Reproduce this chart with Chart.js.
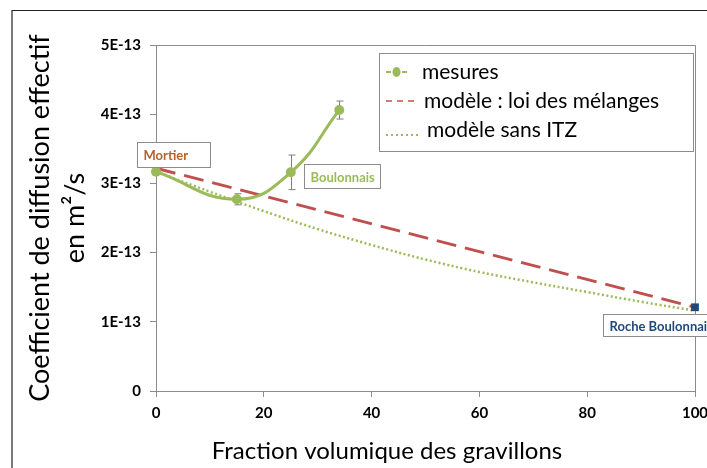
<!DOCTYPE html>
<html>
<head>
<meta charset="utf-8">
<script src="https://cdn.jsdelivr.net/npm/chart.js@4/dist/chart.umd.min.js"></script>
<style>
  html, body { margin: 0; padding: 0; background: #fff; }
  canvas { display: block; }
</style>
</head>
<body>
<canvas id="chart" width="707" height="468"></canvas>
<script>
// data (values in m2/s)
const mesuresX = [0, 15, 25, 34];
const mesuresY = [3.17e-13, 2.77e-13, 3.16e-13, 4.06e-13];
const mesuresErr = [0, 0.08e-13, 0.25e-13, 0.13e-13];

const melangeX = [0, 100];
const melangeY = [3.22e-13, 1.21e-13];

const sansItzX = [0, 10, 20, 30, 40, 50, 60, 70, 80, 90, 100];
const sansItzY = [3.17e-13, 2.88e-13, 2.60e-13, 2.34e-13, 2.11e-13, 1.90e-13, 1.72e-13, 1.57e-13, 1.43e-13, 1.29e-13, 1.16e-13];

const xTicks = [0, 20, 40, 60, 80, 100];
const yTicks = [0, 1e-13, 2e-13, 3e-13, 4e-13, 5e-13];

const seriesLabels = ["mesures", "modèle : loi des mélanges", "modèle sans ITZ"];
const pointNames = ["Mortier", "Boulonnais", "Roche Boulonnais"];

const FONT = 'Lato, "Open Sans", sans-serif';
const GREEN = "#9BBB59", RED = "#C0504D", BLUE = "#1F497D", AXIS = "#8c8c8c";

const toXY = (xs, ys) => xs.map((x, i) => ({ x, y: ys[i] }));

// error bars, frame, legend, point labels
const extras = {
    id: "extras",
    beforeDatasetsDraw(chart) {
        const { ctx, chartArea: a, scales: { x, y } } = chart;
        ctx.save();
        // plot box top / right
        ctx.strokeStyle = AXIS;
        ctx.lineWidth = 1;
        ctx.beginPath();
        ctx.moveTo(a.left, Math.round(a.top) + 0.5);
        ctx.lineTo(Math.round(a.right) + 0.5, Math.round(a.top) + 0.5);
        ctx.lineTo(Math.round(a.right) + 0.5, a.bottom);
        ctx.stroke();
        // error bars
        ctx.strokeStyle = "#7f7f7f";
        mesuresX.forEach((v, i) => {
            if (!mesuresErr[i]) return;
            const px = Math.round(x.getPixelForValue(v)) + 0.5;
            const top = y.getPixelForValue(mesuresY[i] + mesuresErr[i]);
            const bot = y.getPixelForValue(mesuresY[i] - mesuresErr[i]);
            ctx.beginPath();
            ctx.moveTo(px, top); ctx.lineTo(px, bot);
            ctx.moveTo(px - 3, top); ctx.lineTo(px + 4, top);
            ctx.moveTo(px - 3, bot); ctx.lineTo(px + 4, bot);
            ctx.stroke();
        });
        ctx.restore();
    },
    afterDraw(chart) {
        const { ctx, scales: { x, y } } = chart;
        ctx.save();
        // outer frame
        ctx.strokeStyle = "#222";
        ctx.lineWidth = 1.2;
        ctx.beginPath();
        ctx.moveTo(12, 468); ctx.lineTo(12, 10.5); ctx.lineTo(707, 10.5);
        ctx.stroke();

        // x title
        ctx.fillStyle = "#000";
        ctx.font = "24px " + FONT;
        ctx.textAlign = "center";
        ctx.textBaseline = "middle";
        ctx.fillText("Fraction volumique des gravillons", 387, 451);

        // point labels
        const boxes = [
            { text: pointNames[0], px: x.getPixelForValue(mesuresX[0]), py: y.getPixelForValue(mesuresY[0]), dx: -19, dy: -30, w: 73, h: 25, color: "#B5622A" },
            { text: pointNames[1], px: x.getPixelForValue(mesuresX[2]), py: y.getPixelForValue(mesuresY[2]), dx: 13, dy: -8, w: 76, h: 24, color: GREEN },
            { text: pointNames[2], px: x.getPixelForValue(melangeX[1]), py: y.getPixelForValue(melangeY[1]), dx: -92, dy: 7, w: 110, h: 22, color: BLUE }
        ];
        ctx.font = "bold 13px " + FONT;
        boxes.forEach(b => {
            const bx = Math.round(b.px + b.dx) + 0.5, by = Math.round(b.py + b.dy) + 0.5;
            ctx.fillStyle = "#fff";
            ctx.fillRect(bx, by, b.w, b.h);
            ctx.strokeStyle = "#8c8c8c";
            ctx.lineWidth = 1;
            ctx.strokeRect(bx, by, b.w, b.h);
            ctx.fillStyle = b.color;
            ctx.textAlign = "left";
            ctx.fillText(b.text, bx + 6, by + b.h / 2 + 1);
        });

        // legend
        const lx = 379.5, ly = 53.5, lw = 314, lh = 98;
        ctx.fillStyle = "#fff";
        ctx.fillRect(lx, ly, lw, lh);
        ctx.strokeStyle = "#8c8c8c";
        ctx.strokeRect(lx, ly, lw, lh);
        const rows = [72, 101, 130];
        ctx.font = "21px " + FONT;
        ctx.textAlign = "left";
        ctx.textBaseline = "middle";
        const ds = chart.data.datasets;
        // mesures: -●-
        ctx.strokeStyle = ds[0].borderColor;
        ctx.lineWidth = 2;
        ctx.beginPath();
        ctx.moveTo(386, rows[0]); ctx.lineTo(391, rows[0]);
        ctx.moveTo(402, rows[0]); ctx.lineTo(407, rows[0]);
        ctx.stroke();
        ctx.fillStyle = ds[0].borderColor;
        ctx.beginPath();
        ctx.ellipse(396.5, rows[0], 4, 5, 0, 0, Math.PI * 2);
        ctx.fill();
        // loi des melanges: - - -
        ctx.strokeStyle = ds[1].borderColor;
        ctx.lineWidth = 1.5;
        ctx.setLineDash([6, 5]);
        ctx.beginPath();
        ctx.moveTo(386, rows[1]); ctx.lineTo(419, rows[1]);
        ctx.stroke();
        // sans ITZ: ......
        ctx.strokeStyle = ds[2].borderColor;
        ctx.lineWidth = 2;
        ctx.setLineDash([2, 3]);
        ctx.beginPath();
        ctx.moveTo(386, rows[2] + 5); ctx.lineTo(419, rows[2] + 5);
        ctx.stroke();
        ctx.setLineDash([]);
        ctx.fillStyle = "#000";
        ds.forEach((d, i) => ctx.fillText(d.label, [422, 424, 427][i], rows[i]));
        ctx.restore();
    }
};

new Chart(document.getElementById("chart"), {
    type: "line",
    data: {
        datasets: [
            {
                label: seriesLabels[0],
                data: toXY(mesuresX, mesuresY),
                borderColor: GREEN,
                backgroundColor: GREEN,
                borderWidth: 3,
                pointRadius: 5,
                pointBorderWidth: 0,
                tension: 0.45,
                clip: false,
                order: 1
            },
            {
                label: seriesLabels[1],
                data: toXY(melangeX, melangeY),
                borderColor: RED,
                backgroundColor: BLUE,
                borderWidth: 3,
                borderDash: [20, 9],
                pointRadius: [0, 5.5],
                pointStyle: "rect",
                pointBorderWidth: 0,
                clip: false,
                order: 2
            },
            {
                label: seriesLabels[2],
                data: toXY(sansItzX, sansItzY),
                borderColor: GREEN,
                borderWidth: 2.5,
                borderDash: [2, 2.5],
                pointRadius: 0,
                tension: 0.4,
                order: 3
            }
        ]
    },
    options: {
        responsive: false,
        animation: false,
        devicePixelRatio: 1,
        layout: { padding: { top: 45, right: 12, left: 0, bottom: 0 } },
        plugins: { legend: { display: false }, tooltip: { enabled: false } },
        scales: {
            x: {
                type: "linear",
                min: 0, max: 100,
                afterBuildTicks: s => { s.ticks = xTicks.map(v => ({ value: v })); },
                ticks: { color: "#000", font: { family: FONT, size: 15, weight: "bold" }, padding: 7, maxRotation: 0 },
                grid: { drawOnChartArea: false, drawTicks: true, tickLength: 6, color: AXIS },
                border: { color: AXIS },
                afterFit: s => { s.height = 77; s.paddingLeft = 0; s.paddingRight = 0; }
            },
            y: {
                min: 0, max: 5e-13,
                afterBuildTicks: s => { s.ticks = yTicks.map(v => ({ value: v })); },
                ticks: {
                    color: "#000", font: { family: FONT, size: 15, weight: "bold" }, padding: 9,
                    callback: v => { const n = Math.round(v * 1e13); return n === 0 ? "0" : n + "E-13"; }
                },
                grid: { drawOnChartArea: false, drawTicks: true, tickLength: 6, color: AXIS },
                border: { color: AXIS },
                title: {
                    display: true,
                    text: ["Coefficient de diffusion effectif", "en m²/s"],
                    color: "#000",
                    font: { family: FONT, size: 27, lineHeight: 1.3 },
                    padding: { top: 23, bottom: 0 }
                },
                afterFit: s => { s.width = 156; s.paddingTop = 0; s.paddingBottom = 0; }
            }
        }
    },
    plugins: [extras]
});
</script>
</body>
</html>
